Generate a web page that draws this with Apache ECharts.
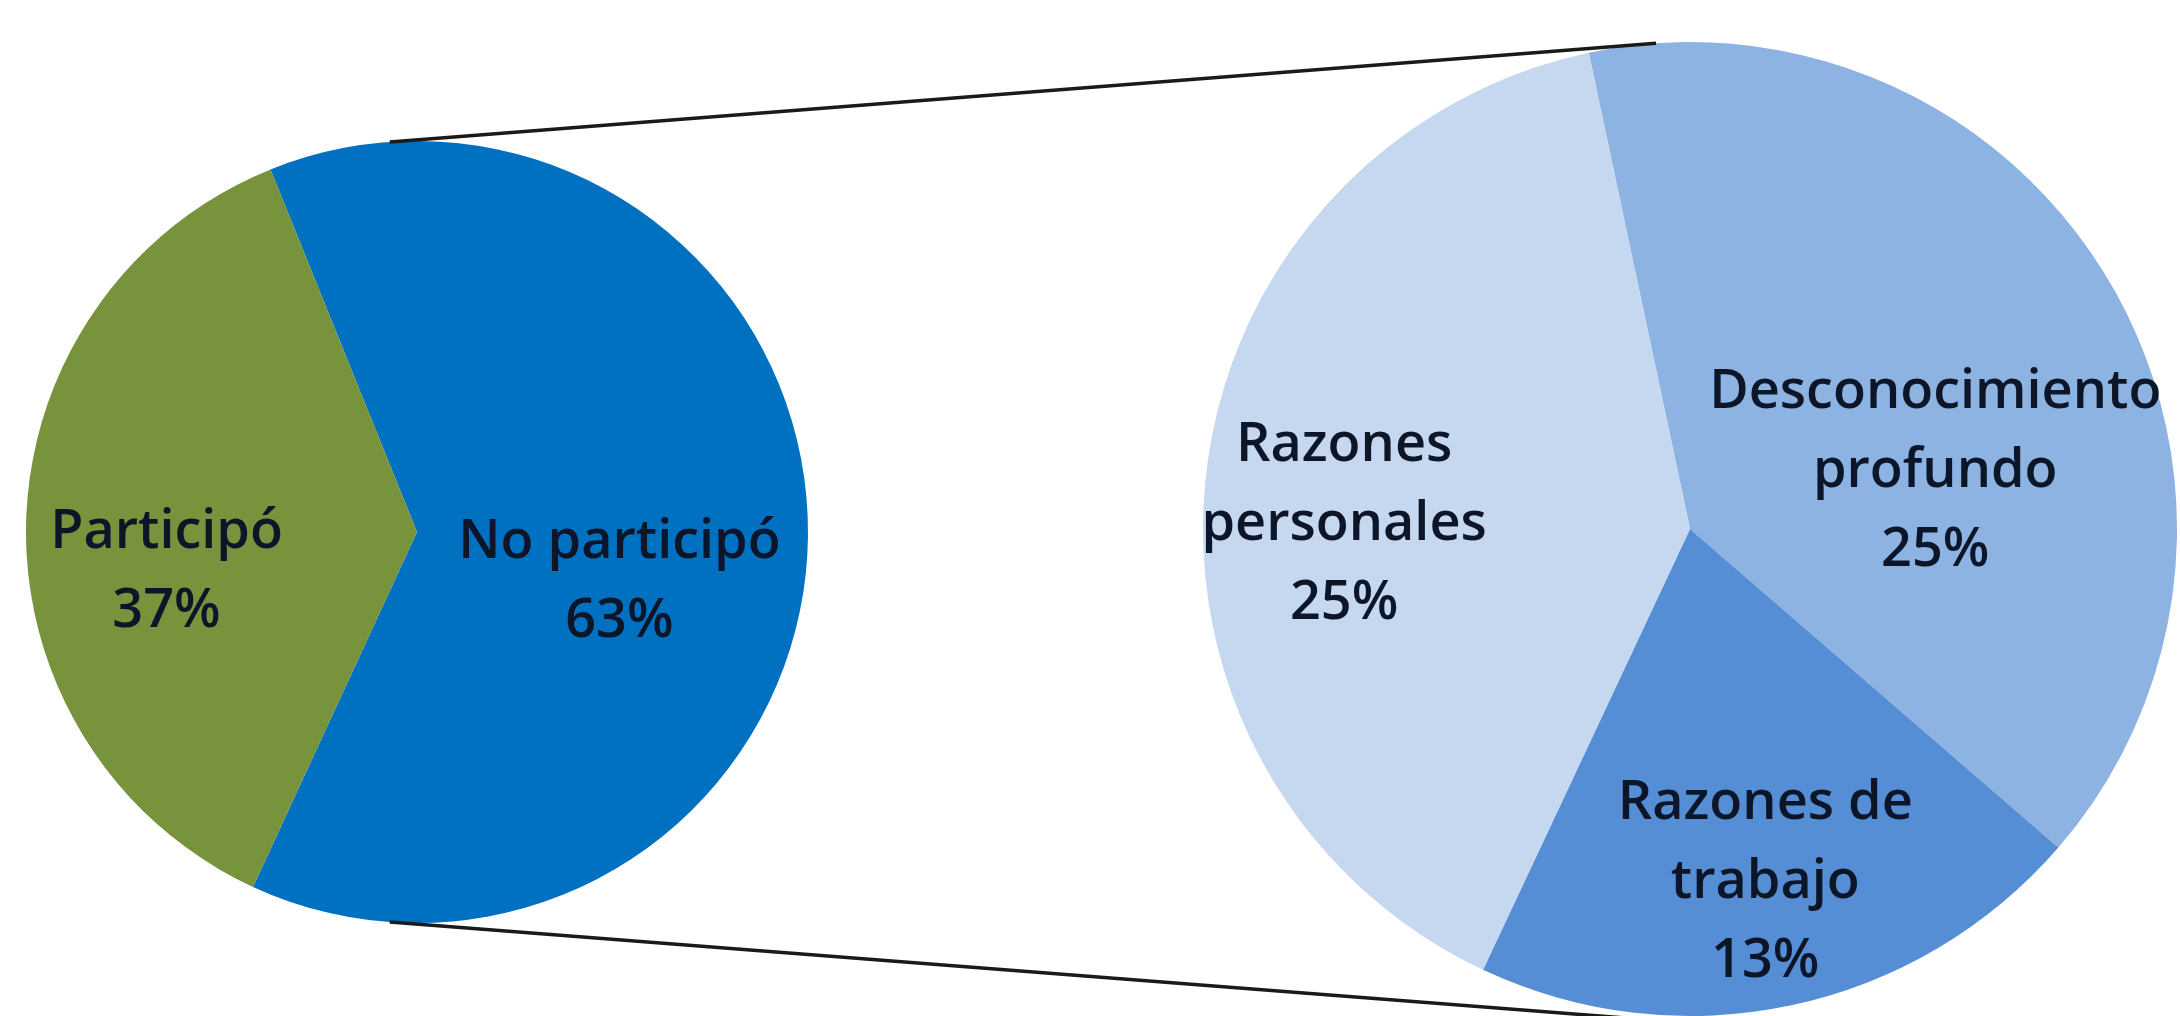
<!DOCTYPE html>
<html>
<head>
<meta charset="utf-8">
<script src="https://cdn.jsdelivr.net/npm/echarts@6/dist/echarts.min.js"></script>
<style>
html,body{margin:0;padding:0;background:#fff;}
#chart{width:2180px;height:1016px;}
</style>
</head>
<body>
<div id="chart"></div>
<script>
// ---- data ----
const mainCategories = ['No participó', 'Participó'];
const mainValues = [63, 37];
const subCategories = ['Desconocimiento\nprofundo', 'Razones de\ntrabajo', 'Razones\npersonales'];
const subValues = [25, 13, 25];

// ---- styles / layout ----
const mainColors = ['#0070C0', '#77933C'];
const subColors = ['#8DB3E2', '#558ED5', '#C5D8F0'];
const L = { cx: 417, cy: 532, r: 391, start: 112 };
const R = { cx: 1690, cy: 529, r: 487, start: 102 };
const mainLabelShift = [[4, 45], [-52, 45]];
const subLabelShift = [[33, 68], [24, 112], [-101, 24]];

const labelStyle = {
  show: true,
  position: 'inside',
  formatter: p => p.name + '\n' + p.value + '%',
  fontFamily: '"Open Sans", Lato, sans-serif',
  fontWeight: 600,
  fontSize: 54,
  lineHeight: 79,
  color: '#0c1628',
  align: 'center'
};

function pt(c, angDeg, rr) { // angle clockwise from top
  const a = angDeg * Math.PI / 180;
  return [c.cx + rr * Math.sin(a), c.cy - rr * Math.cos(a)];
}
const topA = pt(L, -4, L.r), topB = pt(R, -4, R.r);
const botA = pt(L, 184, L.r), botB = pt(R, 187, R.r + 6);

const chart = echarts.init(document.getElementById('chart'), null, { renderer: 'canvas' });
chart.setOption({
  backgroundColor: '#ffffff',
  animation: false,
  series: [
    {
      type: 'pie',
      center: [L.cx, L.cy],
      radius: [0, L.r],
      startAngle: L.start,
      clockwise: true,
      silent: true,
      data: mainCategories.map((n, i) => ({ name: n, value: mainValues[i], itemStyle: { color: mainColors[i] } })),
      label: labelStyle,
      labelLine: { show: false },
      labelLayout: p => ({ dx: mainLabelShift[p.dataIndex][0], dy: mainLabelShift[p.dataIndex][1] })
    },
    {
      type: 'pie',
      center: [R.cx, R.cy],
      radius: [0, R.r],
      startAngle: R.start,
      clockwise: true,
      silent: true,
      data: subCategories.map((n, i) => ({ name: n, value: subValues[i], itemStyle: { color: subColors[i] } })),
      label: labelStyle,
      labelLine: { show: false },
      labelLayout: p => ({ dx: subLabelShift[p.dataIndex][0], dy: subLabelShift[p.dataIndex][1] })
    }
  ],
  graphic: [
    { type: 'line', z: 10, shape: { x1: topA[0], y1: topA[1], x2: topB[0], y2: topB[1] }, style: { stroke: '#1a1a1a', lineWidth: 3.5 } },
    { type: 'line', z: 10, shape: { x1: botA[0], y1: botA[1], x2: botB[0], y2: botB[1] }, style: { stroke: '#1a1a1a', lineWidth: 3.5 } }
  ]
});
</script>
</body>
</html>
